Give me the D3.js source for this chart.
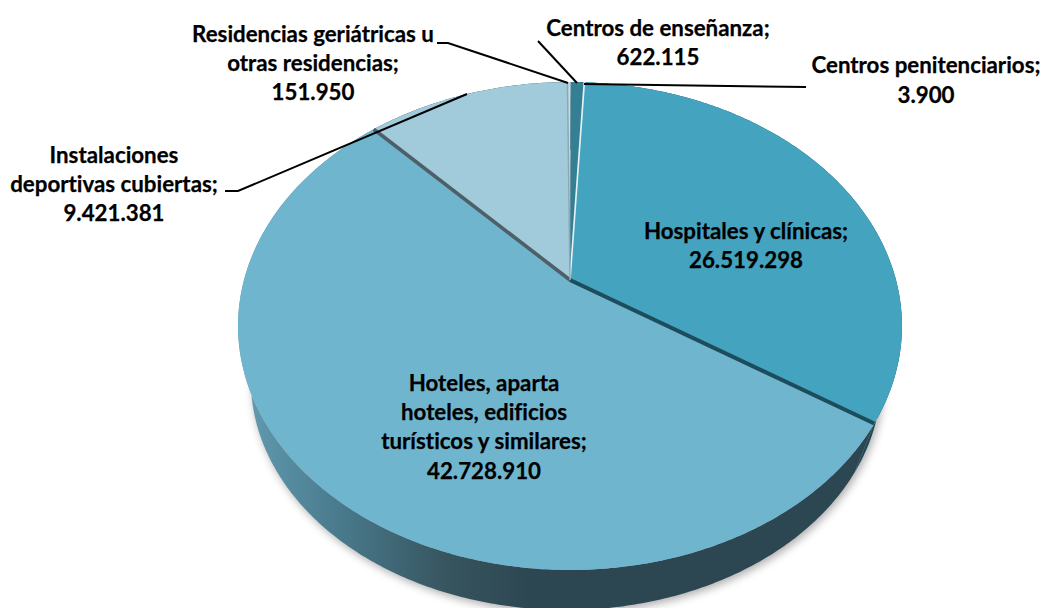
<!DOCTYPE html>
<html lang="es">
<head>
<meta charset="utf-8">
<script src="https://cdnjs.cloudflare.com/ajax/libs/d3/7.9.0/d3.min.js"></script>
<style>
html,body{margin:0;padding:0;background:#fff;overflow:hidden}
svg{display:block}
text{font-family:Lato,"Open Sans",sans-serif;font-weight:700;fill:#000;stroke:#000;stroke-width:0.25px;font-variant-ligatures:none}
</style>
</head>
<body>
<svg id="c" width="1042" height="608"></svg>
<script>
const categories = ["Hospitales y clínicas","Hoteles, aparta hoteles, edificios turísticos y similares","Instalaciones deportivas cubiertas","Residencias geriátricas u otras residencias","Centros de enseñanza","Centros penitenciarios"];
const values = [26519298,42728910,9421381,151950,622115,3900];
const valueLabels = ["26.519.298","42.728.910","9.421.381","151.950","622.115","3.900"];
const labelLines = [
  ["Hospitales y clínicas;"],
  ["Hoteles, aparta","hoteles, edificios","turísticos y similares;"],
  ["Instalaciones","deportivas cubiertas;"],
  ["Residencias geriátricas u","otras residencias;"],
  ["Centros de enseñanza;"],
  ["Centros penitenciarios;"]
];
const topColors = ["#44a3be","#6fb5ce","#a1cadb","#c5dde6","#357f95","#e6f2f5"];

// layout (not data)
const labelAnchor = [[746,231,29],[484,383,29.3],[114,155,29],[313,34,29],[658,28,29],[926,65,30]];
const leaders = [null,null,[[225,191],[238,191],[467,94]],[[437,43],[448,43],[568,83]],[[538,41],[577,83]],[[584,84],[806,87]]];
const k = 0.1885;
const topDisc = {cx:570,cy:280,A:326,B:235.3};
const baseDisc = {cx:566,cy:336.7,A:309.5,B:221.8};
const project = (d,t) => {
  const x = Math.sin(t), y = -Math.cos(t), w = 1 - k*y;
  return [d.cx + d.A*x/w, d.cy + d.B*y/w];
};
const arcPts = (d,a,b) => {
  const n = Math.max(2,Math.ceil(Math.abs(b-a)/0.01));
  return d3.range(n+1).map(i => project(d,a+(b-a)*i/n));
};
const rad = Math.PI/180;
const arcs = d3.pie().sort(null).startAngle(3*rad).endAngle(363*rad)(values);
const line = d3.line();
const svg = d3.select("#c");
const defs = svg.append("defs");
defs.append("filter").attr("id","blur").attr("x","-10%").attr("y","-10%").attr("width","120%").attr("height","120%")
  .append("feGaussianBlur").attr("stdDeviation",4);
const wall = defs.append("linearGradient").attr("id","wall").attr("gradientUnits","userSpaceOnUse")
  .attr("x1",250).attr("x2",530).attr("y1",0).attr("y2",0);
[[0,"#6099ae"],[0.35,"#477789"],[0.7,"#37555f"],[1,"#2d4752"]].forEach(s=>wall.append("stop").attr("offset",s[0]).attr("stop-color",s[1]));

// soft shadow under the base
svg.append("path")
  .attr("d",line(arcPts(baseDisc,0,2*Math.PI))+"Z")
  .attr("transform","translate(2,3)")
  .attr("fill","#777").attr("opacity",0.6).attr("filter","url(#blur)");

// side walls
const wallPath = a => line(arcPts(topDisc,a.startAngle,a.endAngle).concat(arcPts(baseDisc,a.endAngle,a.startAngle)))+"Z";
svg.append("g").selectAll("path").data(arcs).join("path")
  .attr("d",wallPath)
  .attr("fill",(d,i)=> i===1 ? "url(#wall)" : "#1b4958");

// top faces
const topPath = a => line([[topDisc.cx,topDisc.cy]].concat(arcPts(topDisc,a.startAngle,a.endAngle)))+"Z";
svg.append("g").selectAll("path").data(arcs).join("path")
  .attr("d",topPath)
  .attr("fill",(d,i)=>topColors[i])
  .attr("stroke",(d,i)=>i===5?topColors[5]:"none")
  .attr("stroke-width",1.6);

// slice separators
const sep = (a,col,w) => svg.append("path")
  .attr("d",line([[topDisc.cx,topDisc.cy],project(topDisc,a)]))
  .attr("stroke",col).attr("stroke-width",w).attr("fill","none");
sep(arcs[0].endAngle,"#1c4d5d",4);
sep(arcs[1].endAngle,"#4e5f68",3.6);
sep(arcs[2].endAngle,"#8ea8b3",1.5);

// leader lines
svg.append("g").selectAll("path").data(leaders.filter(Boolean)).join("path")
  .attr("d",d=>line(d)).attr("fill","none").attr("stroke","#000").attr("stroke-width",2);

// labels
const size = 22.3;
labelLines.forEach((ls,i)=>{
  const [x,y,lh] = labelAnchor[i];
  const t = svg.append("text").attr("text-anchor","middle").attr("font-size",size);
  ls.concat(valueLabels[i]).forEach((s,j)=>{
    t.append("tspan").attr("x",x).attr("y",y+j*lh).attr("dy","0.35em").text(s);
  });
});
</script>
</body>
</html>
